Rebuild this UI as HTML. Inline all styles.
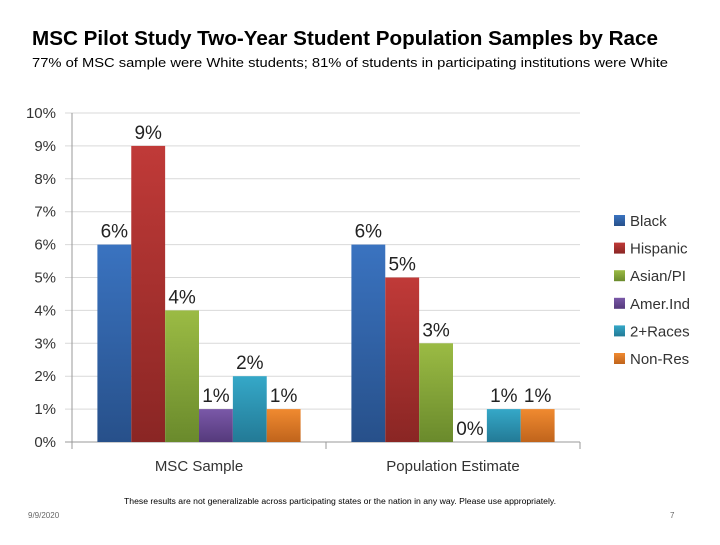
<!DOCTYPE html>
<html><head><meta charset="utf-8"><style>
body{margin:0;background:#fff;width:720px;height:540px;overflow:hidden;font-family:"Liberation Sans",sans-serif}
</style></head><body>
<svg id="c" width="720" height="540" xmlns="http://www.w3.org/2000/svg">
<defs>
<linearGradient id="g0" x1="0" y1="0" x2="0" y2="1"><stop offset="0" stop-color="#3a73c0"/><stop offset="1" stop-color="#27508a"/></linearGradient>
<linearGradient id="g1" x1="0" y1="0" x2="0" y2="1"><stop offset="0" stop-color="#c03a38"/><stop offset="1" stop-color="#8a2624"/></linearGradient>
<linearGradient id="g2" x1="0" y1="0" x2="0" y2="1"><stop offset="0" stop-color="#9bbb44"/><stop offset="1" stop-color="#6a8a2c"/></linearGradient>
<linearGradient id="g3" x1="0" y1="0" x2="0" y2="1"><stop offset="0" stop-color="#7a58a8"/><stop offset="1" stop-color="#553a7c"/></linearGradient>
<linearGradient id="g4" x1="0" y1="0" x2="0" y2="1"><stop offset="0" stop-color="#35a8c8"/><stop offset="1" stop-color="#237a96"/></linearGradient>
<linearGradient id="g5" x1="0" y1="0" x2="0" y2="1"><stop offset="0" stop-color="#f08a30"/><stop offset="1" stop-color="#c0641c"/></linearGradient>
</defs>
<text x="32" y="45" font-size="20" font-weight="bold" fill="#000" textLength="626" lengthAdjust="spacingAndGlyphs">MSC Pilot Study Two-Year Student Population Samples by Race</text>
<text x="32" y="67" font-size="13" fill="#000" textLength="636" lengthAdjust="spacingAndGlyphs">77% of MSC sample were White students; 81% of students in participating institutions were White</text>
<g id="plot"></g>
<text x="124" y="504" font-size="8" fill="#000" textLength="432" lengthAdjust="spacingAndGlyphs">These results are not generalizable across participating states or the nation in any way. Please use appropriately.</text>
<text x="28" y="518" font-size="8" fill="#666">9/9/2020</text>
<text x="670" y="518" font-size="8" fill="#666">7</text>
</svg>
<script>
const categories=["MSC Sample","Population Estimate"];
const seriesNames=["Black","Hispanic","Asian/PI","Amer.Ind","2+Races","Non-Res"];
const black=[6,6];
const hispanic=[9,5];
const asianPI=[4,3];
const amerInd=[1,0];
const twoPlus=[2,1];
const nonRes=[1,1];
const yTicks=[0,1,2,3,4,5,6,7,8,9,10];
const series=[black,hispanic,asianPI,amerInd,twoPlus,nonRes];
const NS="http://www.w3.org/2000/svg";
const g=document.getElementById('plot');
const x0=72,x1=580,yTop=113,yBot=442,yMax=10;
const y=v=>yBot-(v/yMax)*(yBot-yTop);
const catW=(x1-x0)/categories.length;
const barW=catW*0.8/series.length;
function el(t,a,txt){const e=document.createElementNS(NS,t);for(const k in a)e.setAttribute(k,a[k]);if(txt!==undefined)e.textContent=txt;g.appendChild(e);return e;}
yTicks.forEach(t=>{
 const l=el('line',{x1:65,x2:x1,y1:y(t),y2:y(t),stroke:t===0?'#999':'#d9d9d9','stroke-width':1});
 
 
 const tx=el('text',{x:56,y:y(t)+5,'font-size':15,'text-anchor':'end',fill:'#333'},t+'%');
 
 
});
const ax=el('line',{x1:x0,x2:x0,y1:yTop,y2:yBot+7,stroke:'#999'});


for(let i=0;i<=categories.length;i++){const tk=el('line',{x1:x0+i*catW,x2:x0+i*catW,y1:yBot,y2:yBot+7,stroke:'#999'});
 
 }
categories.forEach((c,ci)=>{
 const start=x0+ci*catW+catW*0.1;
 series.forEach((s,si)=>{
  const v=s[ci],bx=start+si*barW;
  const r=el('rect',{x:bx,y:y(v),width:barW,height:yBot-y(v),fill:'url(#g'+si+')'});
  
  
  const lb=el('text',{x:bx+barW/2,y:y(v)-7,'font-size':19,'text-anchor':'middle',fill:'#222'},v+'%');
  
  
 });
 const cl=el('text',{x:x0+ci*catW+catW/2,y:471,'font-size':15,'text-anchor':'middle',fill:'#333'},c);
 
 
});
seriesNames.forEach((n,i)=>{
 const ly=221+i*27.6;
 const sw=el('rect',{x:614,y:ly-6,width:11,height:11,fill:'url(#g'+i+')'});
 
 
 const t=el('text',{x:630,y:ly+5,'font-size':15,fill:'#333'},n);
 
 
});
</script>
</body></html>
